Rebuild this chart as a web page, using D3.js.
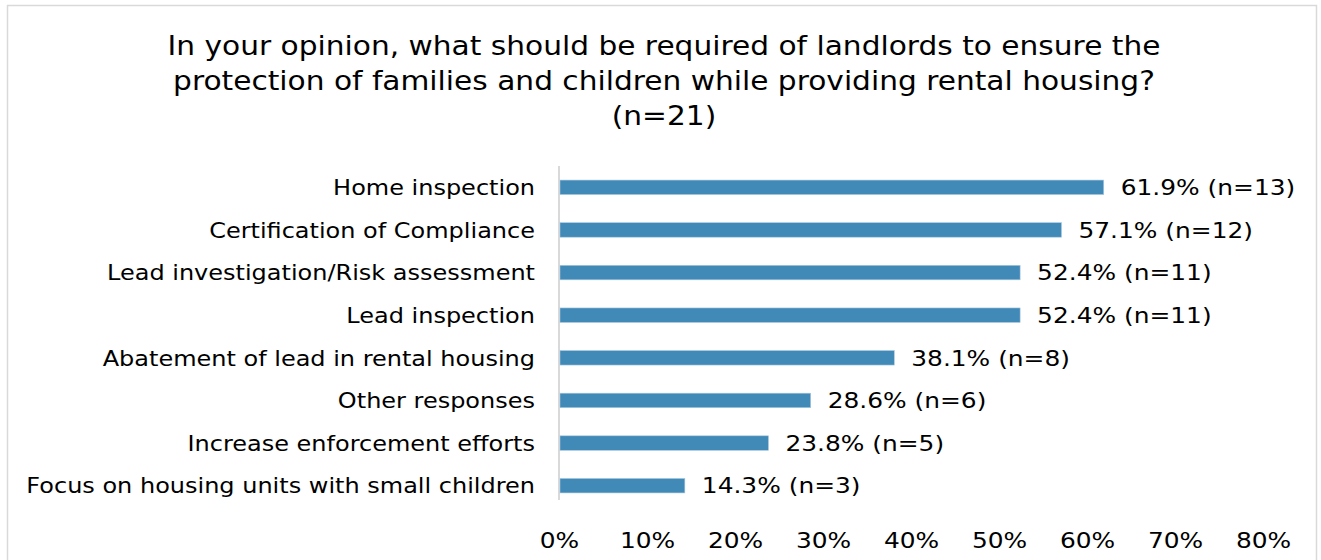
<!DOCTYPE html>
<html>
<head>
<meta charset="utf-8">
<script src="https://cdn.jsdelivr.net/npm/d3@7"></script>
<style>
  html, body { margin: 0; padding: 0; background: #ffffff; }
  svg { display: block; }
  text { font-family: "DejaVu Sans", Verdana, sans-serif; fill: #000; }
</style>
</head>
<body>
<svg id="chart" width="1321" height="560"></svg>
<script>
// Survey responses (n=21)
const categories = [
  "Home inspection",
  "Certification of Compliance",
  "Lead investigation/Risk assessment",
  "Lead inspection",
  "Abatement of lead in rental housing",
  "Other responses",
  "Increase enforcement efforts",
  "Focus on housing units with small children"
];
const percents = [61.9, 57.1, 52.4, 52.4, 38.1, 28.6, 23.8, 14.3];
const counts = [13, 12, 11, 11, 8, 6, 5, 3];
const tickValues = [0, 10, 20, 30, 40, 50, 60, 70, 80];
const titleLines = [
  "In your opinion, what should be required of landlords to ensure the",
  "protection of families and children while providing rental housing?",
  "(n=21)"
];

const svg = d3.select("#chart");

// widen glyphs to a Verdana-like set width
function widen(sel, factor) {
  sel.each(function () {
    const w = this.getComputedTextLength();
    d3.select(this)
      .attr("textLength", w * factor)
      .attr("lengthAdjust", "spacingAndGlyphs");
  });
}

// chart frame
svg.append("rect")
  .attr("x", 7.5).attr("y", 5.5)
  .attr("width", 1309).attr("height", 570)
  .attr("fill", "#fff")
  .attr("stroke", "#d9d9d9").attr("stroke-width", 1.5);

// title
const title = svg.append("g").selectAll("text")
  .data(titleLines).join("text")
  .attr("x", 664)
  .attr("y", (d, i) => 55 + i * 35)
  .attr("text-anchor", "middle")
  .attr("font-size", 26)
  .text(d => d);
widen(title, 1.14);

const x = d3.scaleLinear().domain([0, 80]).range([559, 1263]);
const y = d3.scaleBand().domain(categories).range([166, 507]).paddingInner(0.66).paddingOuter(0.33);

// vertical category axis line
svg.append("line")
  .attr("x1", 559).attr("x2", 559)
  .attr("y1", 166).attr("y2", 500)
  .attr("stroke", "#d9d9d9").attr("stroke-width", 2);

// bars
svg.append("g").selectAll("rect")
  .data(categories).join("rect")
  .attr("x", x(0) + 1)
  .attr("y", d => y(d))
  .attr("width", (d, i) => x(percents[i]) - x(0) - 1)
  .attr("height", y.bandwidth())
  .attr("fill", "#4189b6")
  .attr("stroke", "#a9c9e0").attr("stroke-width", 0.6);

// category labels
const catLabels = svg.append("g").selectAll("text")
  .data(categories).join("text")
  .attr("x", 535)
  .attr("y", d => y(d) + y.bandwidth() / 2)
  .attr("dy", "0.35em")
  .attr("text-anchor", "end")
  .attr("font-size", 22)
  .text(d => d);
widen(catLabels, 1.09);

// value labels
const valLabels = svg.append("g").selectAll("text")
  .data(categories).join("text")
  .attr("x", (d, i) => x(percents[i]) + 17)
  .attr("y", d => y(d) + y.bandwidth() / 2)
  .attr("dy", "0.35em")
  .attr("font-size", 22)
  .text((d, i) => `${percents[i].toFixed(1)}% (n=${counts[i]})`);
widen(valLabels, 1.13);

// value axis
const xAxis = d3.axisBottom(x)
  .tickValues(tickValues)
  .tickFormat(d => d + "%")
  .tickSize(0)
  .tickPadding(0);
const ax = svg.append("g").attr("transform", "translate(0,532)").call(xAxis);
ax.select(".domain").remove();
const tickText = ax.selectAll("text")
  .attr("font-size", 22)
  .attr("font-family", "DejaVu Sans, Verdana, sans-serif")
  .attr("fill", "#000")
  .attr("dy", "0.71em");
widen(tickText, 1.13);
</script>
</body>
</html>
